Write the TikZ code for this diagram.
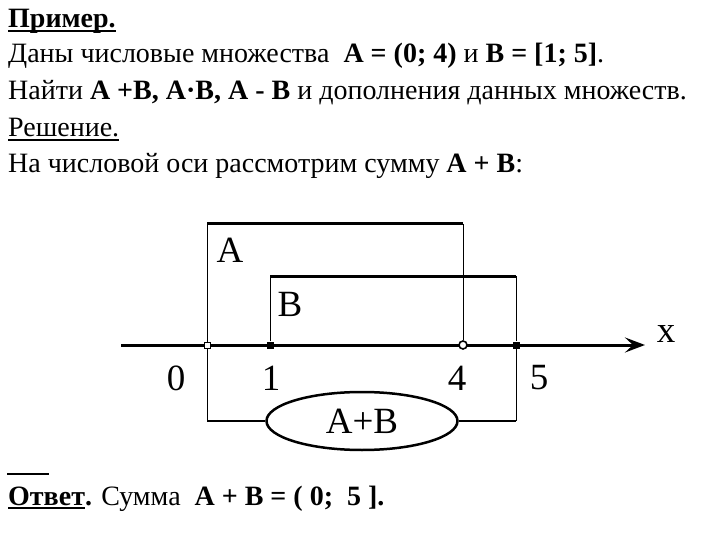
\documentclass[tikz,border=0pt]{standalone}
\usepackage{fontspec}
\setmainfont{Liberation Serif}
\usetikzlibrary{arrows.meta,shapes.geometric}
\newcommand\thickul[1]{\setbox0\hbox{#1}\rlap{\rule[-4pt]{\wd0}{2.4pt}}\box0}

\begin{document}
\begin{tikzpicture}[x=1pt,y=-1pt,font=\fontsize{28}{32}\selectfont]
  \tikzstyle{line text}=[anchor=base west,inner sep=0]
  \tikzstyle{mark text}=[font=\fontsize{37}{40}\selectfont,inner sep=0]
  \tikzstyle{open dot}=[circle,draw,line width=1.6,fill=white,inner sep=0,minimum size=8]
  \tikzstyle{open box}=[rectangle,draw,line width=1,fill=white,inner sep=0,minimum size=6]
  \tikzstyle{solid box}=[rectangle,fill=black,inner sep=0,minimum size=7]
  \tikzstyle{thin side}=[line width=1]
  \tikzstyle{top side}=[line width=3]
  \useasboundingbox (0,0) rectangle (720,540);
  \node(l1)[line text] at (8,28) {\thickul{\textbf{Пример.}}};
  \node(l2)[line text] at (8,63) {Даны числовые множества \ \textbf{A = (0; 4)} и \textbf{B = [1; 5]}.};
  \node(l3)[line text] at (8,100) {Найти \textbf{A +B, A·B, A - B} и дополнения данных множеств.};
  \node(l4)[line text] at (8,137) {\thickul{Решение.}};
  \node(l5)[line text] at (8,173) {На числовой оси рассмотрим сумму \textbf{A + B}:};
  \coordinate(s) at (121,345);
  \coordinate(e) at (645,345);
  \draw[line width=3,-{Stealth[length=20,width=15,inset=8]}] (s) -- (e);
  \node(0)[open box] at (207,345) {};
  \node(1)[solid box] at (270,345) {};
  \node(4)[open dot] at (463,345) {};
  \node(5)[solid box] at (516,345) {};
  \coordinate(a0) at (207,224);
  \coordinate(a4) at (463,224);
  \coordinate(b1) at (270,276);
  \coordinate(b5) at (516,276);
  \coordinate(c0) at (207,421);
  \coordinate(c5) at (516,421);
  \draw[thin side] (0) -- (a0);
  \draw[top side] (a0) -- (a4);
  \draw[thin side] (a4) -- (4);
  \draw[thin side] (1) -- (b1);
  \draw[top side] (b1) -- (b5);
  \draw[thin side] (b5) -- (5);
  \node(sum)[ellipse,draw,line width=2.5,minimum width=191,minimum height=58,inner sep=0,
    font=\fontsize{37}{40}\selectfont] at (362,421) {A+B};
  \draw[thin side] (0) -- (c0);
  \draw[line width=2] (c0) -- (sum.west);
  \draw[line width=2] (sum.east) -- (c5);
  \draw[thin side] (5) -- (c5);
  \node(A)[mark text] at (230,250) {A};
  \node(B)[mark text] at (290,304) {B};
  \node(x)[mark text] at (666,334) {x};
  \node(n0)[mark text] at (176,378) {0};
  \node(n1)[mark text] at (271,378) {1};
  \node(n4)[mark text] at (457,378) {4};
  \node(n5)[mark text] at (539,378) {5};
  \coordinate(d1) at (7,474);
  \coordinate(d2) at (49,474);
  \draw[line width=2] (d1) -- (d2);
  \node(ans)[line text] at (8,505) {\thickul{\textbf{Ответ}}\textbf{.} Сумма \ \textbf{A + B = ( 0; \ 5 ].}};
\end{tikzpicture}
\end{document}
